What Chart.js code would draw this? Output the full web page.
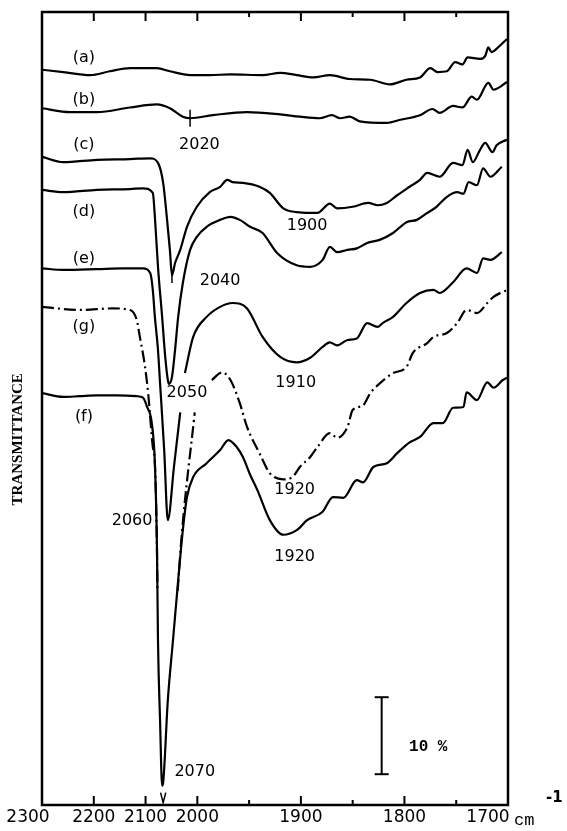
<!DOCTYPE html>
<html>
<head>
<meta charset="utf-8">
<script src="https://cdn.jsdelivr.net/npm/chart.js@4.4.1/dist/chart.umd.min.js"></script>
<style>
  html, body { margin: 0; padding: 0; background: #fff; }
</style>
</head>
<body>
<canvas id="irChart" width="567" height="831"></canvas>
<script>
// =============================================
// IR spectra, wavenumber (cm-1) vs transmittance (%), curves offset
// =============================================

const aWn = [2300,2259,2207,2169,2130,2078,2053,2014,1988,1968,1937,1920,1904,1888,1872,1853,1833,1814,1798,1785,1775,1768,1759,1751,1744,1739,1727,1722,1719,1716,1708,1701];
const aT  = [95.5,95.2,94.8,95.3,95.7,95.7,95.3,94.8,94.8,94.9,94.8,95.1,94.8,94.5,94.8,94.3,94.2,93.6,94.2,94.5,95.7,95.2,95.3,96.5,96.2,97.1,96.9,97.3,98.4,97.8,98.6,99.5];

const bWn = [2300,2246,2194,2130,2078,2053,2028,2014,1985,1952,1920,1901,1882,1870,1862,1853,1843,1817,1804,1785,1773,1766,1753,1744,1735,1730,1719,1714,1701];
const bT  = [90.5,90.0,90.0,90.6,91.0,90.5,89.4,89.2,89.6,90.0,89.7,89.4,89.2,89.6,89.2,89.4,88.8,88.6,89.0,89.6,90.4,89.9,90.8,90.6,92.0,91.6,93.8,92.9,93.9];

const cWn = [2300,2259,2194,2130,2091,2076,2066,2059,2053,2049,2043,2033,2020,2001,1988,1978,1971,1966,1956,1940,1930,1917,1904,1891,1884,1872,1865,1850,1835,1826,1817,1807,1795,1785,1778,1766,1753,1744,1739,1734,1727,1722,1715,1711,1701];
const cT  = [84.2,83.5,83.8,83.9,84.0,83.4,80.8,76.4,72.1,68.8,70.4,72.1,75.1,77.7,79.6,80.3,81.2,80.9,80.8,80.3,79.5,77.5,77.0,76.9,76.9,78.1,77.5,77.7,78.2,77.9,78.2,79.2,80.3,81.2,82.1,81.6,83.4,83.1,85.1,83.5,85.1,86.0,84.8,85.7,86.4];

const dWn = [2300,2259,2194,2130,2105,2086,2082,2076,2068,2062,2057,2055,2049,2043,2037,2028,2014,2001,1991,1978,1968,1959,1949,1937,1923,1904,1891,1879,1872,1865,1855,1846,1836,1824,1811,1798,1788,1778,1769,1759,1749,1743,1738,1730,1724,1717,1706];
const dT  = [79.9,79.6,79.9,80.0,80.1,79.5,76.4,69.9,63.4,58.2,55.2,54.7,55.6,59.1,63.4,67.8,72.1,73.8,75.1,76.0,76.4,76.0,75.1,74.3,71.7,70.1,69.9,70.8,72.5,71.8,72.1,72.3,73.0,73.4,74.3,75.7,76.0,76.9,77.7,79.0,79.6,79.4,80.9,80.5,82.7,81.6,82.9];

// null = break in the trace (left open for the "2050" label)
const eWn = [2300,2259,2194,2144,2105,2091,2086,2082,2076,2072,2064,2057,2045,2033,2028,2024,2008,1991,1978,1966,1952,1937,1920,1904,1891,1879,1872,1865,1855,1846,1836,1826,1821,1811,1798,1785,1772,1766,1753,1740,1730,1724,1717,1706];
const eT  = [69.7,69.5,69.6,69.7,69.7,69.1,66.9,63.4,59.1,54.8,46.1,37.0,44.0,51.0,null,56.1,60.8,63.4,64.7,65.2,64.5,60.8,58.2,57.5,58.1,59.5,60.1,59.7,60.4,60.6,62.6,62.1,62.6,63.4,65.2,66.5,66.9,66.5,67.9,69.7,69.1,71.0,70.8,71.8];

// (g) runs into the arms of (f) near its deep band
const gWn = [2300,2227,2163,2130,2117,2111,2101,2095,2086,2082,2078,2077,2060,2038,2030,2005,1995,1986,1976,1968,1959,1952,1940,1930,1917,1908,1901,1891,1884,1872,1865,1855,1850,1840,1833,1826,1811,1798,1792,1778,1772,1759,1749,1740,1730,1720,1714,1701];
const gT  = [64.7,64.3,64.5,64.3,63.0,60.8,56.9,53.5,46.5,44.4,33.5,28.0,null,27.8,35.2,51.0,null,55.2,56.2,55.2,52.2,49.1,45.7,43.1,42.3,42.6,43.9,45.2,46.5,48.3,47.7,49.1,51.3,51.9,53.5,54.5,56.1,56.9,58.7,60.0,60.8,61.3,62.6,64.3,63.9,65.2,66.0,66.9];

const fWn = [2300,2259,2227,2194,2155,2117,2105,2097,2088,2082,2078,2076,2072,2068,2066,2057,2047,2037,2028,2020,2008,1991,1978,1970,1962,1956,1949,1942,1930,1917,1904,1894,1879,1869,1859,1846,1840,1830,1817,1807,1795,1785,1772,1763,1753,1743,1740,1730,1720,1714,1705,1701];
const fT  = [53.5,53.0,53.1,53.2,53.2,53.1,52.9,51.7,49.6,44.4,33.5,21.4,11.0,2.5,2.9,13.6,21.4,29.2,35.7,40.0,42.6,44.4,46.1,47.4,46.5,45.2,42.9,40.9,37.0,35.1,35.7,37.0,38.1,40.0,39.9,42.2,41.9,43.9,44.4,45.7,47.1,47.8,49.6,49.6,51.6,51.7,53.6,52.6,54.9,54.2,55.2,55.5];

// peak markers and the 10 % scale bar
const markBWn = [2014, 2014];       const markBT = [88.1, 90.3];
const markCWn = [2049, 2049];       const markCT = [67.8, 68.8];
const markFWn = [2071, 2066, 2061]; const markFT = [1.6, 0.3, 1.6];
const barWn = [1822, 1822];         const barT = [4, 14];

// axis ticks
const labelWn = [2300, 2200, 2100, 2000, 1900, 1800, 1700];
const majorWn = [2200, 2100, 2000, 1900, 1800];
const minorWn = [1950, 1850, 1750];

// text written on the plot
const noteText = ['(a)', '(b)', '(c)', '2020', '(d)', '1900', '2040', '(e)', '(g)', '2050', '1910', '(f)', '2060', '1920', '1920', '2070'];
const noteWn   = [2219, 2219, 2219, 1998, 2219, 1894, 1978, 2219, 2219, 2020, 1905, 2219, 2126, 1906, 1906, 2005];
const noteT    = [97.0, 91.6, 85.7, 85.7, 77.0, 75.2, 68.1, 71.0, 62.1, 53.5, 54.8, 50.4, 36.9, 40.9, 32.2, 4.3];
const barText = '10 %'; const barTextWn = 1777; const barTextT = 7.5;
const yTitle = 'TRANSMITTANCE'; const yTitleT = 47.5;

// The spectrometer chart is compressed 2x above 2000 cm-1.
// u: 0..150 covers 2300..2000, 150..450 covers 2000..1700
function toU(wn) { return wn >= 2000 ? (2300 - wn) / 2 : 150 + (2000 - wn); }

function pts(wn, t) {
    return wn.map((w, i) => ({ x: toU(w), y: t[i] }));
}

function trace(wn, t, dash) {
    return {
        data: pts(wn, t),
        borderColor: '#000',
        borderWidth: 2.2,
        borderDash: dash || [],
        pointRadius: 0,
        cubicInterpolationMode: 'monotone',
        spanGaps: false
    };
}

function mark(wn, t) {
    return {
        data: pts(wn, t),
        borderColor: '#000',
        borderWidth: 1.5,
        pointRadius: 0,
        tension: 0
    };
}

// frame with inward ticks on top and bottom
const framePlugin = {
    id: 'frame',
    afterDatasetsDraw(chart) {
        const { ctx, chartArea: a, scales: { x } } = chart;
        ctx.save();
        ctx.strokeStyle = '#000';
        ctx.lineWidth = 2.5;
        ctx.strokeRect(a.left, a.top, a.right - a.left, a.bottom - a.top);
        ctx.lineWidth = 2;
        const tick = (wn, len) => {
            const px = x.getPixelForValue(toU(wn));
            ctx.beginPath();
            ctx.moveTo(px, a.top); ctx.lineTo(px, a.top + len);
            ctx.moveTo(px, a.bottom); ctx.lineTo(px, a.bottom - len);
            ctx.stroke();
        };
        majorWn.forEach(w => tick(w, 9));
        minorWn.forEach(w => tick(w, 5));
        ctx.restore();
    }
};

// tick labels, labels at data positions, axis title and unit
const notesPlugin = {
    id: 'notes',
    afterDraw(chart) {
        const { ctx, chartArea: a, scales: { x, y } } = chart;
        ctx.save();
        ctx.fillStyle = '#000';
        ctx.textAlign = 'center';
        ctx.textBaseline = 'middle';

        // end labels sit a little left, "1700" makes room for the unit
        ctx.font = '17px "DejaVu Sans"';
        labelWn.forEach(w => {
            let px = x.getPixelForValue(toU(w));
            if (w === 2300) px -= 14;
            if (w === 1700) px -= 20;
            ctx.fillText(String(w), px, a.bottom + 13);
        });

        ctx.font = '16px "DejaVu Sans"';
        noteText.forEach((s, i) => {
            ctx.fillText(s, x.getPixelForValue(toU(noteWn[i])), y.getPixelForValue(noteT[i]));
        });
        ctx.font = 'bold 16px "Liberation Mono"';
        ctx.fillText(barText, x.getPixelForValue(toU(barTextWn)), y.getPixelForValue(barTextT));

        // vertical axis title
        ctx.save();
        ctx.translate(a.left - 24, y.getPixelForValue(yTitleT));
        ctx.rotate(-Math.PI / 2);
        ctx.font = 'bold 15px "Liberation Serif"';
        ctx.fillText(yTitle, 0, 0);
        ctx.restore();

        ctx.textAlign = 'left';
        ctx.font = '17px "Liberation Mono"';
        ctx.fillText('cm', a.right + 6, a.bottom + 15);
        ctx.font = 'bold 15px "DejaVu Sans"';
        ctx.fillText('-1', a.right + 38, a.bottom - 7);
        ctx.restore();
    }
};

new Chart(document.getElementById('irChart'), {
    type: 'line',
    data: {
        datasets: [
            trace(aWn, aT),
            trace(bWn, bT),
            trace(cWn, cT),
            trace(dWn, dT),
            trace(eWn, eT),
            trace(gWn, gT, [12, 4, 2, 4]),
            trace(fWn, fT),
            mark(markBWn, markBT),
            mark(markCWn, markCT),
            mark(markFWn, markFT),
            {
                data: pts(barWn, barT),
                borderColor: '#000',
                borderWidth: 2,
                pointStyle: 'line',
                pointRadius: 7,
                pointBorderWidth: 2,
                pointBorderColor: '#000'
            }
        ]
    },
    options: {
        responsive: false,
        animation: false,
        devicePixelRatio: 1,
        layout: { padding: { left: 42, right: 59, top: 12, bottom: 26 } },
        plugins: {
            legend: { display: false },
            tooltip: { enabled: false }
        },
        scales: {
            x: { display: false, type: 'linear', min: 0, max: 450 },
            y: { display: false, min: 0, max: 103 }
        }
    },
    plugins: [framePlugin, notesPlugin]
});
</script>
</body>
</html>
